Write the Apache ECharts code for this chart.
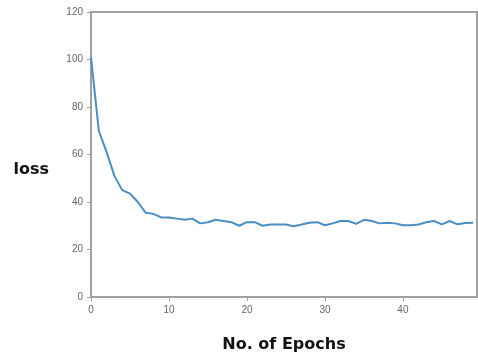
<!DOCTYPE html>
<html>
<head>
<meta charset="utf-8">
<script src="https://cdn.jsdelivr.net/npm/echarts@6/dist/echarts.min.js"></script>
<style>
  html, body { margin: 0; padding: 0; background: #fff; }
  #chart { width: 478px; height: 358px; }
</style>
</head>
<body>
<div id="chart"></div>
<script>
// loss per epoch
const epochs = Array.from({ length: 50 }, (_, i) => i);
const loss = [
  101, 70, 61, 51, 45, 43.5, 40, 35.5, 35, 33.5,
  33.5, 33, 32.5, 33, 31, 31.5, 32.5, 32, 31.5, 30,
  31.5, 31.5, 30, 30.5, 30.5, 30.5, 29.8, 30.5, 31.3, 31.5,
  30.2, 31, 32, 32, 30.8, 32.5, 32, 31, 31.3, 31,
  30.2, 30.2, 30.5, 31.5, 32, 30.6, 32, 30.6, 31.2, 31.3
];
const yTicks = [0, 20, 40, 60, 80, 100, 120];

const chart = echarts.init(document.getElementById('chart'));

const axisGrey = '#a0a0a0';
const labelGrey = '#666';

chart.setOption({
  animation: false,
  grid: {
    left: 91,
    right: 1,
    top: 12,
    bottom: 60,
    show: true,
    borderColor: axisGrey,
    borderWidth: 2,
  },
  xAxis: {
    type: 'value',
    min: 0,
    max: 49.5,
    interval: 10,
    name: 'No. of Epochs',
    nameLocation: 'middle',
    nameGap: 40,
    nameTextStyle: {
      color: '#111',
      fontSize: 16,
      fontWeight: 'bold',
      fontFamily: 'DejaVu Sans',
    },
    axisLine: { lineStyle: { color: axisGrey, width: 2 } },
    axisTick: { length: 4, lineStyle: { color: axisGrey } },
    axisLabel: {
      color: labelGrey,
      fontSize: 10,
      margin: 8,
      showMaxLabel: false,
    },
    splitLine: { show: false },
  },
  yAxis: {
    type: 'value',
    min: yTicks[0],
    max: yTicks[yTicks.length - 1],
    interval: 20,
    name: 'loss',
    nameLocation: 'middle',
    nameRotate: 0,
    nameGap: 42,
    nameTextStyle: {
      color: '#111',
      fontSize: 16,
      fontWeight: 'bold',
      fontFamily: 'DejaVu Sans',
      align: 'right',
      verticalAlign: 'top',
      padding: [7, 0, 0, 0],
    },
    axisLine: { show: true, lineStyle: { color: axisGrey, width: 2 } },
    axisTick: { show: true, length: 4, lineStyle: { color: axisGrey } },
    axisLabel: { color: labelGrey, fontSize: 10, margin: 8 },
    splitLine: { show: false },
  },
  series: [
    {
      type: 'line',
      data: epochs.map((e, i) => [e, loss[i]]),
      showSymbol: false,
      lineStyle: { color: '#4a8ec2', width: 2 },
    },
  ],
});
</script>
</body>
</html>
